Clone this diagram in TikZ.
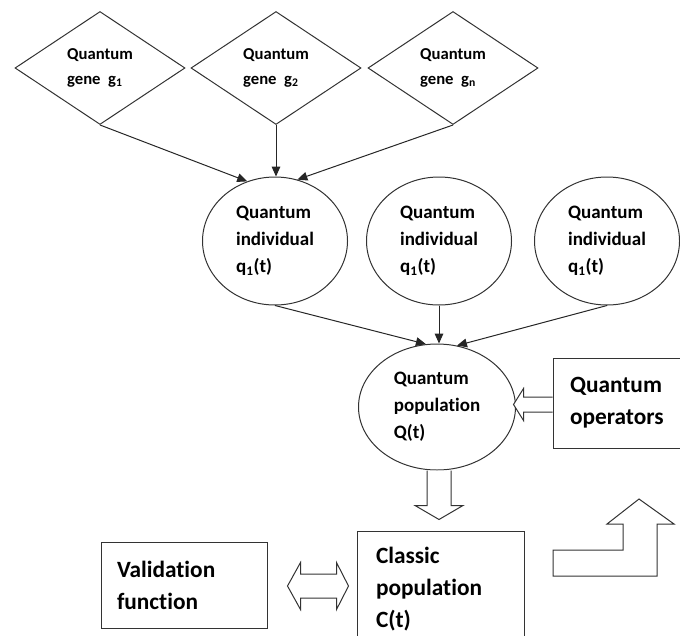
\documentclass[tikz,border=0pt]{standalone}
\usepackage{fontspec}
\setmainfont{Carlito}[Ligatures=NoCommon]
\usetikzlibrary{shapes.geometric,arrows.meta}

\tikzset{
  gene/.style={diamond, draw=black!80, line width=0.75pt, inner sep=0pt, minimum width=127.5pt, minimum height=84.75pt, align=left, font=\fontsize{12.5}{18.75}\selectfont\bfseries},
  indiv/.style={ellipse, draw=black!80, line width=0.75pt, inner sep=0pt, minimum width=108.75pt, minimum height=96pt, align=left, font=\fontsize{14.25}{20.25}\selectfont\bfseries},
  plainbox/.style={rectangle, draw=black!80, line width=0.75pt, inner ysep=0pt, align=left, font=\fontsize{17.5}{24}\selectfont\bfseries},
  link/.style={-{Triangle[length=7.5pt,width=6.5pt]}, draw=black!85, line width=0.75pt},
  hollow/.style={draw=black!80, line width=0.75pt, fill=white},
}

\begin{document}
\begin{tikzpicture}[x=0.75pt, y=-0.75pt]
\useasboundingbox (0,0) rectangle (680,635);
\clip (0,0) rectangle (680,635);

\node[gene] (g1) at (100,68) {Quantum\\gene\ \ g\textsubscript{1}};
\node[gene] (g2) at (276,68) {Quantum\\gene\ \ g\textsubscript{2}};
\node[gene] (g3) at (453,68) {Quantum\\gene\ \ g\textsubscript{n}};

\node[indiv] (q1) at (275,241) {Quantum\\individual\\q\textsubscript{1}(t)};
\node[indiv] (q2) at (439,241) {Quantum\\individual\\q\textsubscript{1}(t)};
\node[indiv] (q3) at (607,241) {Quantum\\individual\\q\textsubscript{1}(t)};

\node[indiv, minimum width=117.75pt, minimum height=94.5pt] (Q) at (437,407) {Quantum\\population\\Q(t)};

\node[plainbox, minimum width=110.25pt, minimum height=67.5pt, text width=84.75pt, inner xsep=12.75pt] (ops) at (626.5,403) {Quantum\\operators};
\node[plainbox, minimum width=125.25pt, minimum height=86.25pt, text width=96.75pt, inner xsep=14.25pt] (cls) at (440.5,589) {Classic\\population\\C(t)};
\node[plainbox, minimum width=124.5pt, minimum height=64.5pt, text width=100.5pt, inner xsep=12pt] (val) at (184,585) {Validation\\function};

\draw[link] (g1.south) -- (q1.115);
\draw[link] (g2.south) -- (g2.south |- q1.north);
\draw[link] (g3.south) -- (q1.70);

\draw[link] (q1.south) -- (Q.100);
\draw[link] (q2.south) -- (q2.south |- Q.north);
\draw[link] (q3.south) -- (Q.72);

\begin{scope}[shift={(ops.west)}]
\draw[hollow] (0,-6) -- (-29,-6) -- (-29,-14.5) -- (-39,1.5) -- (-29,17.5) -- (-29,9) -- (0,9);
\end{scope}
\begin{scope}[shift={(Q.south)}]
\draw[hollow] (-10,0) -- (-10,35) -- (-22,35) -- (2,49) -- (26,35) -- (14,35) -- (14,0);
\end{scope}
\begin{scope}[shift={(val.east)}]
\draw[hollow] (20,1) -- (33,-22.5) -- (33,-11) -- (69,-11) -- (69,-22.5) -- (81,1) -- (69,24.5) -- (69,13) -- (33,13) -- (33,24.5) -- cycle;
\end{scope}

\draw[hollow] (553,576) -- (553,550) -- (623,550) -- (623,524) -- (607,524) -- (639,499) -- (674,524) -- (657,524) -- (657,576) -- cycle;
\end{tikzpicture}
\end{document}
